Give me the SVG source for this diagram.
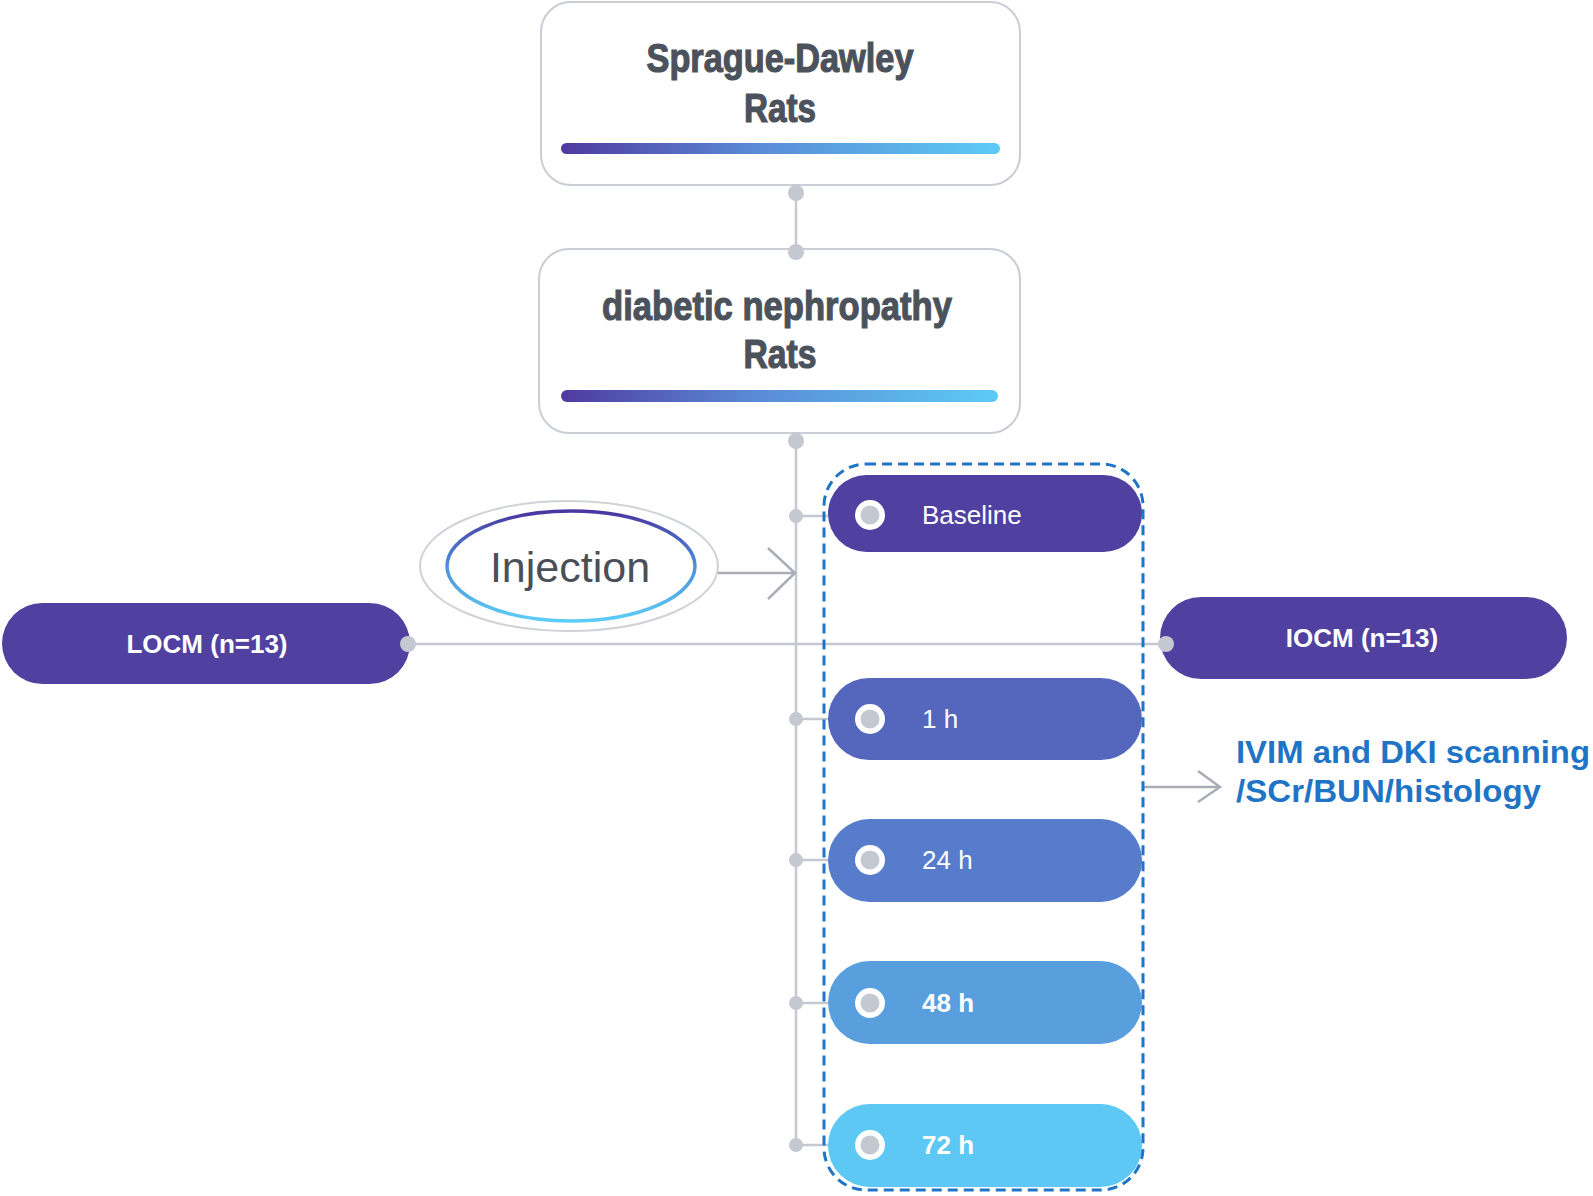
<svg xmlns="http://www.w3.org/2000/svg" width="1593" height="1196" viewBox="0 0 1593 1196">
<defs>
<linearGradient id="bar" x1="0" y1="0" x2="1" y2="0">
<stop offset="0" stop-color="#4f3aa0"/>
<stop offset="0.45" stop-color="#5a8cd6"/>
<stop offset="1" stop-color="#5ccbf6"/>
</linearGradient>
<linearGradient id="ring" x1="0" y1="0" x2="0" y2="1">
<stop offset="0" stop-color="#4a35a0"/>
<stop offset="0.5" stop-color="#4f8fd8"/>
<stop offset="1" stop-color="#5ccdf6"/>
</linearGradient>
<style>
.card{fill:#fff;stroke:#c9cdd5;stroke-width:2}
.head{font-family:"Liberation Sans",Arial,sans-serif;font-weight:bold;font-size:41px;fill:#4c525c;stroke:#4c525c;stroke-width:1.2;text-anchor:middle}
.bar{fill:url(#bar)}
.conn{stroke:#c4c8d0;stroke-width:2.5;fill:none}
.dot{fill:#c4c8d0}
.arrow{stroke:#a9adb5;stroke-width:2.5;fill:none}
.pill-text{font-family:"Liberation Sans",Arial,sans-serif;font-size:26px;fill:#fff}
.grp{font-family:"Liberation Sans",Arial,sans-serif;font-size:26px;font-weight:bold;fill:#fff;text-anchor:middle}
.ring{fill:#fff}
.ringin{fill:#c4c8d0}
.out{font-family:"Liberation Sans",Arial,sans-serif;font-size:31px;font-weight:bold;fill:#1f74c6}
</style>
</defs>

<g id="node-sd">
<rect class="card" x="541" y="2" width="479" height="183" rx="30"/>
<text class="head" x="780" y="72" textLength="267" lengthAdjust="spacingAndGlyphs">Sprague-Dawley</text>
<text class="head" x="780" y="122" textLength="72" lengthAdjust="spacingAndGlyphs">Rats</text>
<rect class="bar" x="561" y="143" width="439" height="11" rx="5.5"/>
</g>

<g id="node-dn">
<rect class="card" x="539" y="249" width="481" height="184" rx="30"/>
<text class="head" x="777" y="320" textLength="350" lengthAdjust="spacingAndGlyphs">diabetic nephropathy</text>
<text class="head" x="780" y="368" textLength="73" lengthAdjust="spacingAndGlyphs">Rats</text>
<rect class="bar" x="561" y="390" width="437" height="12" rx="6"/>
</g>

<g id="node-injection">
<ellipse cx="569" cy="566" rx="149" ry="65" fill="#fff" stroke="#cfd2d9" stroke-width="2"/>
<ellipse cx="571" cy="566" rx="124" ry="55" fill="#fff" stroke="url(#ring)" stroke-width="3.5"/>
<text x="570" y="582" font-family="Liberation Sans, Arial, sans-serif" font-size="43" fill="#4a4f58" text-anchor="middle">Injection</text>
</g>

<g id="node-locm">
<rect x="2" y="603" width="408" height="81" rx="40.5" fill="#5040a0"/>
<text class="grp" x="207" y="653">LOCM (n=13)</text>
</g>

<g id="node-iocm">
<rect x="1160" y="597" width="407" height="82" rx="41" fill="#5040a0"/>
<text class="grp" x="1362" y="647">IOCM (n=13)</text>
</g>

<g id="node-baseline">
<rect x="828" y="475" width="314" height="77" rx="38.5" fill="#5040a0"/>
<circle class="ring" cx="870" cy="515" r="15"/>
<circle class="ringin" cx="870" cy="515" r="9.5"/>
<text class="pill-text" x="922" y="524">Baseline</text>
</g>

<g id="node-1h">
<rect x="828" y="678" width="314" height="82" rx="41" fill="#5567bd"/>
<circle class="ring" cx="870" cy="719" r="15"/>
<circle class="ringin" cx="870" cy="719" r="9.5"/>
<text class="pill-text" x="922" y="728">1 h</text>
</g>

<g id="node-24h">
<rect x="828" y="819" width="314" height="83" rx="41.5" fill="#567ccb"/>
<circle class="ring" cx="870" cy="860" r="15"/>
<circle class="ringin" cx="870" cy="860" r="9.5"/>
<text class="pill-text" x="922" y="869">24 h</text>
</g>

<g id="node-48h">
<rect x="828" y="961" width="314" height="83" rx="41.5" fill="#599fdd"/>
<circle class="ring" cx="870" cy="1003" r="15"/>
<circle class="ringin" cx="870" cy="1003" r="9.5"/>
<text class="pill-text" x="922" y="1012" font-weight="bold">48 h</text>
</g>

<g id="node-72h">
<rect x="828" y="1104" width="314" height="83" rx="41.5" fill="#5dc8f4"/>
<circle class="ring" cx="870" cy="1145" r="15"/>
<circle class="ringin" cx="870" cy="1145" r="9.5"/>
<text class="pill-text" x="922" y="1154" font-weight="bold">72 h</text>
</g>

<g id="node-outcome">
<text class="out" x="1236" y="763" textLength="354" lengthAdjust="spacingAndGlyphs">IVIM and DKI scanning</text>
<text class="out" x="1236" y="802" textLength="305" lengthAdjust="spacingAndGlyphs">/SCr/BUN/histology</text>
</g>

<g id="connectors">
<line class="conn" x1="796" y1="193" x2="796" y2="252"/>
<line class="conn" x1="796" y1="440" x2="796" y2="1145"/>
<line class="conn" x1="796" y1="516" x2="828" y2="516"/>
<line class="conn" x1="796" y1="719" x2="828" y2="719"/>
<line class="conn" x1="796" y1="860" x2="828" y2="860"/>
<line class="conn" x1="796" y1="1003" x2="828" y2="1003"/>
<line class="conn" x1="796" y1="1145" x2="828" y2="1145"/>
<line class="conn" x1="408" y1="644" x2="1166" y2="644"/>
<circle class="dot" cx="796" cy="193" r="8"/>
<circle class="dot" cx="796" cy="252" r="8"/>
<circle class="dot" cx="796" cy="441" r="8"/>
<circle class="dot" cx="796" cy="516" r="7"/>
<circle class="dot" cx="796" cy="719" r="7"/>
<circle class="dot" cx="796" cy="860" r="7"/>
<circle class="dot" cx="796" cy="1003" r="7"/>
<circle class="dot" cx="796" cy="1145" r="7"/>
<circle class="dot" cx="408" cy="644" r="8"/>
<circle class="dot" cx="1166" cy="644" r="8"/>
<line class="arrow" x1="718" y1="573" x2="795" y2="573"/>
<polyline class="arrow" points="768,548 795,573 768,599"/>
<line class="arrow" x1="1144" y1="787" x2="1220" y2="787"/>
<polyline class="arrow" points="1198,771 1220,787 1198,802"/>
</g>

<g id="group-timepoints">
<rect x="824" y="464" width="319" height="726" rx="42" fill="none" stroke="#1f74c6" stroke-width="3" stroke-dasharray="10 6"/>
</g>
</svg>
